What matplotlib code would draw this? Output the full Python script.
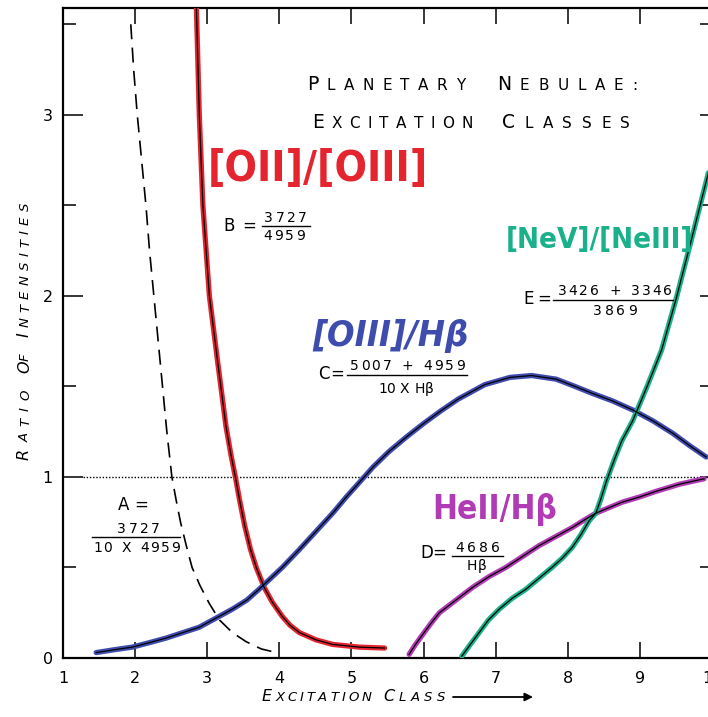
import matplotlib
matplotlib.use("Agg")
import matplotlib.pyplot as plt
from matplotlib.lines import Line2D

# ---------------- data ----------------
x_ticks = [1, 2, 3, 4, 5, 6, 7, 8, 9, 10]
x_tick_labels = ["1", "2", "3", "4", "5", "6", "7", "8", "9", "10"]
y_ticks = [0, 1, 2, 3]
y_tick_labels = ["0", "1", "2", "3"]
y_minor_ticks = [0.5, 1.5, 2.5, 3.5]

# A = 3727 / (10 x 4959)  (dashed)
A_x = [1.94, 1.98, 2.03, 2.09, 2.15, 2.20, 2.26, 2.32, 2.38, 2.44, 2.51, 2.57, 2.63, 2.71, 2.79,
       2.90, 3.03, 3.17, 3.35, 3.54, 3.75, 3.96]
A_y = [3.50, 3.25, 3.00, 2.75, 2.50, 2.25, 2.00, 1.75, 1.50, 1.25, 1.00, 0.87, 0.75, 0.62, 0.50,
       0.40, 0.30, 0.21, 0.14, 0.09, 0.05, 0.03]
# B = 3727 / 4959  [OII]/[OIII]
B_x = [2.85, 2.89, 2.94, 3.03, 3.14, 3.26, 3.33, 3.39, 3.45, 3.52, 3.60, 3.68, 3.79, 3.90, 4.04,
       4.15, 4.28, 4.51, 4.74, 5.11, 5.46]
B_y = [3.59, 3.00, 2.50, 2.00, 1.65, 1.28, 1.12, 1.00, 0.87, 0.73, 0.60, 0.50, 0.39, 0.31, 0.23,
       0.18, 0.14, 0.10, 0.075, 0.06, 0.055]
# C = (5007 + 4959) / (10 x Hbeta)  [OIII]/Hbeta
C_x = [1.46, 1.70, 1.96, 2.20, 2.43, 2.66, 2.89, 3.12, 3.35, 3.55, 3.72, 3.88, 4.04, 4.28, 4.51,
       4.74, 4.93, 5.11, 5.30, 5.52, 5.76, 6.00, 6.24, 6.48, 6.85, 7.20, 7.50, 7.84, 8.10, 8.35,
       8.62, 8.90, 9.18, 9.46, 9.70, 9.92]
C_y = [0.03, 0.045, 0.06, 0.085, 0.11, 0.14, 0.17, 0.22, 0.27, 0.32, 0.38, 0.44, 0.50, 0.60, 0.70,
       0.80, 0.89, 0.97, 1.055, 1.14, 1.22, 1.295, 1.365, 1.43, 1.51, 1.55, 1.56, 1.54, 1.50, 1.46,
       1.42, 1.37, 1.31, 1.24, 1.17, 1.11]
# D = 4686 / Hbeta  HeII/Hbeta
D_x = [5.80, 5.88, 5.97, 6.10, 6.22, 6.45, 6.68, 6.91, 7.14, 7.37, 7.60, 7.83, 8.06, 8.22, 8.39,
       8.57, 8.75, 9.00, 9.22, 9.55, 9.89]
D_y = [0.02, 0.07, 0.12, 0.19, 0.25, 0.32, 0.39, 0.45, 0.50, 0.56, 0.62, 0.67, 0.72, 0.76, 0.80,
       0.83, 0.86, 0.89, 0.92, 0.96, 0.99]
# E = (3426 + 3346) / 3869  [NeV]/[NeIII]
E_x = [6.53, 6.64, 6.77, 6.90, 7.05, 7.23, 7.42, 7.60, 7.78, 7.92, 8.06, 8.18, 8.30, 8.39, 8.46,
       8.53, 8.64, 8.75, 8.90, 9.10, 9.30, 9.50, 9.74, 9.95]
E_y = [0.01, 0.07, 0.14, 0.21, 0.27, 0.33, 0.38, 0.44, 0.50, 0.55, 0.61, 0.68, 0.76, 0.80, 0.88,
       0.97, 1.09, 1.20, 1.31, 1.50, 1.70, 1.98, 2.35, 2.68]

RED = "#e42530"
BLUE = "#3e4cae"
MAGENTA = "#b13bb5"
GREEN = "#19b08a"

W, H = 708, 717
fig = plt.figure(figsize=(W / 100, H / 100), dpi=100)
fig.patch.set_facecolor("white")
ax = fig.add_axes([63 / W, (H - 658) / H, (712 - 63) / W, 650 / H])
ax.set_xlim(1, 10)
ax.set_ylim(0, 3.59)

for s in ax.spines.values():
    s.set_linewidth(1.6)

ax.set_xticks(x_ticks)
ax.set_xticklabels(x_tick_labels)
ax.set_yticks(y_ticks)
ax.set_yticklabels(y_tick_labels)
ax.set_yticks(y_minor_ticks, minor=True)
ax.tick_params(axis="x", which="major", direction="in", top=True, bottom=True,
               length=11.5, width=1.1, pad=9.4, labelsize=11.5)
ax.tick_params(axis="y", which="major", direction="in", left=True, right=True,
               length=14.4, width=1.1, pad=7.2, labelsize=11.5)
ax.tick_params(axis="y", which="minor", direction="in", left=True, right=True,
               length=9.4, width=1.1)
for t in ax.yaxis.get_major_ticks() + ax.yaxis.get_minor_ticks():
    t.tick2line.set_markersize(8.6)

# dotted reference line at 1
ax.plot([1.28, 10], [1, 1], color="k", lw=1.0, ls=(0, (1, 1.3)), zorder=1)

# dashed curve A
ax.plot(A_x, A_y, color="k", lw=1.2, ls=(0, (9, 5)), zorder=2)

# coloured marker strokes with thin ink line
for xs, ys, c in [(B_x, B_y, RED), (C_x, C_y, BLUE), (D_x, D_y, MAGENTA), (E_x, E_y, GREEN)]:
    ax.plot(xs, ys, color=c, lw=3.8, solid_capstyle="round", solid_joinstyle="round", zorder=3)
    ax.plot(xs, ys, color="k", lw=0.9, zorder=4)

renderer = fig.canvas.get_renderer()


def fx(x):
    return x / W


def fy(y):
    return 1 - y / H


def tracked(s, x0, x1, y, size, big=(), bigsize=None, style="normal", vertical=False,
            xbase=None):
    """Lettering-guide style text: characters spread with even tracking between x0 and x1."""
    items = []
    for i, c in enumerate(s):
        fs = bigsize if i in big else size
        if c == " ":
            items.append((c, fs, fs * 100 / 72 * 0.45, None))
            continue
        t = fig.text(0, 0, c, ha="left", va="baseline", fontsize=fs, style=style)
        w = t.get_window_extent(renderer).width
        items.append((c, fs, w, t))
    total = sum(it[2] for it in items)
    span = abs(x1 - x0)
    gap = (span - total) / max(len(items) - 1, 1)
    direction = 1 if x1 >= x0 else -1
    pos = x0
    for c, fs, w, t in items:
        if t is not None:
            if not vertical:
                t.set_position((fx(pos), fy(y)))
            else:
                t.set_rotation(90)
                t.set_rotation_mode("anchor")
                t.set_position((fx(xbase), fy(pos)))
        pos += direction * (w + gap)


def fit_text(s, x0, x1, yc, color, style="normal", weight="bold", scale=1.0):
    t = fig.text(fx((x0 + x1) / 2), fy(yc), s, ha="center", va="center", fontsize=20,
                 color=color, style=style, weight=weight, fontstretch="condensed")
    bb = t.get_window_extent(renderer)
    t.set_fontsize(20 * (x1 - x0) / bb.width * scale)
    return t


def hline(x0, x1, y, lw=1.0):
    fig.add_artist(Line2D([fx(x0), fx(x1)], [fy(y), fy(y)], color="k", lw=lw))


# title
tracked("PLANETARY", 307, 465, 90, 11, big=(0,), bigsize=13.5)
tracked("NEBULAE:", 497, 637, 90, 11, big=(0,), bigsize=13.5)
tracked("EXCITATION", 312, 473, 128, 11, big=(0,), bigsize=13.5)
tracked("CLASSES", 502, 630, 128, 11, big=(0,), bigsize=13.5)

# axis labels
tracked("EXCITATION", 262, 372, 701, 9.5, big=(0,), bigsize=11.5, style="italic")
tracked("CLASS", 383, 445, 701, 9.5, big=(0,), bigsize=11.5, style="italic")
ax.annotate("", xy=(533, H - 697), xytext=(453, H - 697), xycoords="figure pixels",
            textcoords="figure pixels", annotation_clip=False,
            arrowprops=dict(arrowstyle="-|>", lw=1.3, color="k", mutation_scale=12,
                            shrinkA=0, shrinkB=0))
tracked("RATIO", 460, 390, 0, 9.5, big=(0,), bigsize=11.5, style="italic", vertical=True, xbase=29)
tracked("OF", 373, 353, 0, 9.5, big=(0,), bigsize=11.5, style="italic", vertical=True, xbase=29)
tracked("INTENSITIES", 337, 203, 0, 9.5, big=(0,), bigsize=11.5, style="italic", vertical=True, xbase=29)

# handwritten labels
fit_text("[OII]/[OIII]", 208, 428, 169, RED)
fit_text("[OIII]/Hβ", 312, 468, 336, BLUE, style="italic")
fit_text("[NeV]/[NeIII]", 505, 693, 240, GREEN)
fit_text("HeII/Hβ", 432, 557, 510, MAGENTA)

# formula A
tracked("A =", 118, 148, 510, 12)
tracked("3727", 117, 160, 533, 10)
hline(92, 180, 537)
tracked("10 X 4959", 93, 180, 552, 10)

# formula B
tracked("B =", 223, 256, 231, 12)
tracked("3727", 264, 307, 222, 10)
hline(262, 310, 226)
tracked("4959", 263, 305, 240, 10)

# formula C
tracked("C =", 318, 344, 379, 12)
tracked("5007 + 4959", 350, 465, 370, 10)
hline(347, 467, 375)
tracked("10 X Hβ", 378, 433, 393, 10)

# formula D
tracked("D =", 420, 446, 558, 12)
tracked("4686", 455, 500, 552, 10)
hline(452, 503, 556)
tracked("Hβ", 467, 487, 570, 10)

# formula E
tracked("E =", 523, 551, 304, 12)
tracked("3426 + 3346", 558, 672, 295, 10)
hline(553, 673, 300)
tracked("3869", 593, 637, 315, 10)

fig.savefig("out.png", dpi=100)
